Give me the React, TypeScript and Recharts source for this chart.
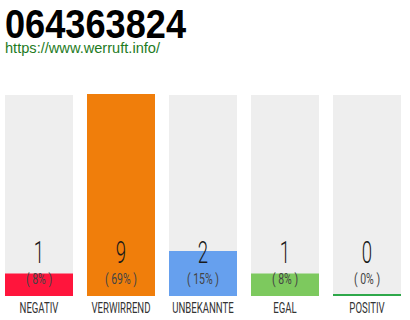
import { BarChart, Bar, XAxis, YAxis, Cell, LabelList } from "recharts";

const categories = ["NEGATIV", "VERWIRREND", "UNBEKANNTE", "EGAL", "POSITIV"];
const votes = [1, 9, 2, 1, 0];
const shares = [8, 69, 15, 8, 0];
const barColors = ["#ff153c", "#f07e0b", "#66a0ee", "#7dc95e", "#2ea84a"];

const data = categories.map((name, i) => ({ name, votes: votes[i], share: shares[i] }));

const labelFont = "Roboto, 'Liberation Sans Narrow', sans-serif";

function GrayBack(props: any) {
  const { x, y, width, height } = props;
  return <rect x={x} y={y + 1} width={width} height={height - 1} fill="#eeeeee" />;
}

function CategoryTick(props: any) {
  const { x, y, payload } = props;
  return (
    <text
      transform={`translate(${x},${y + 17}) scale(0.62,1)`}
      textAnchor="middle"
      fontFamily={labelFont}
      fontWeight={400}
      fontSize={15.5}
      fill="#333"
    >
      {payload.value}
    </text>
  );
}

function VoteLabel(props: any) {
  const { x, y, width, height, index } = props;
  const cx = x + width / 2;
  const bottom = y + height;
  return (
    <g>
      <text
        transform={`translate(${cx},${bottom - 33}) scale(0.6,1)`}
        textAnchor="middle"
        fontFamily={labelFont}
        fontWeight={300}
        fontSize={31}
        fill="#1a1a1a"
      >
        {votes[index]}
      </text>
      <text
        transform={`translate(${cx},${bottom - 12}) scale(0.68,1)`}
        textAnchor="middle"
        fontFamily={labelFont}
        fontWeight={400}
        fontSize={15.5}
        fill="#444"
      >
        {`( ${shares[index]}% )`}
      </text>
    </g>
  );
}

export default function App() {
  return (
    <div style={{ position: "absolute", left: 0, top: 0, width: 410, height: 320, background: "#fff" }}>
      <svg width={410} height={60} style={{ position: "absolute", left: 0, top: 0 }}>
        <text
          x={5}
          y={38}
          fontFamily="'Liberation Sans Narrow', 'Liberation Sans', sans-serif"
          fontWeight="bold"
          fontSize={41}
          textLength={181}
          lengthAdjust="spacingAndGlyphs"
          fill="#000"
        >
          064363824
        </text>
        <text
          x={5}
          y={53}
          fontFamily="'Liberation Sans', Arial, sans-serif"
          fontSize={15}
          textLength={155}
          lengthAdjust="spacingAndGlyphs"
          fill="#1e7b1e"
        >
          https://www.werruft.info/
        </text>
      </svg>
      <div style={{ position: "absolute", left: -2, top: 0 }}>
        <BarChart
          width={410}
          height={320}
          data={data}
          margin={{ top: 94, right: 0, bottom: 0, left: 0 }}
          barCategoryGap={14}
        >
          <XAxis
            dataKey="name"
            axisLine={false}
            tickLine={false}
            tickSize={0}
            tickMargin={0}
            height={24}
            interval={0}
            tick={<CategoryTick />}
          />
          <YAxis hide domain={[0, 9]} />
          <Bar
            dataKey="votes"
            barSize={68}
            minPointSize={2}
            background={<GrayBack />}
            isAnimationActive={false}
          >
            {data.map((d, i) => (
              <Cell key={d.name} fill={barColors[i]} />
            ))}
            <LabelList dataKey="votes" content={<VoteLabel />} />
          </Bar>
        </BarChart>
      </div>
    </div>
  );
}
